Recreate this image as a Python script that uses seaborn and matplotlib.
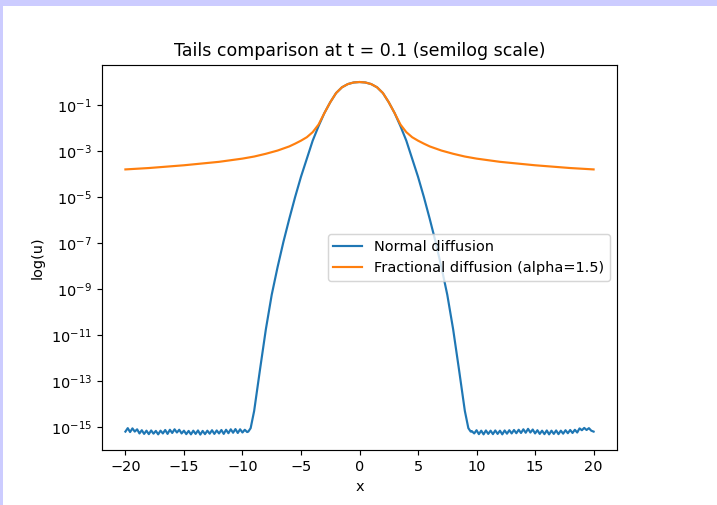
import numpy as np
import pandas as pd
import matplotlib
matplotlib.use("Agg")
import matplotlib.pyplot as plt
from matplotlib.patches import Rectangle
from matplotlib.ticker import NullLocator
import seaborn as sns

# ---- data (log10 of u) ----
# normal diffusion: noise floor on the left, Gaussian core, noise floor on the right
normal_floor_left_x = np.round(np.arange(-20.0, -9.55, 0.2), 2)
normal_floor_left_log = [
    -15.20, -15.05, -15.22, -15.06, -15.20, -15.10, -15.28, -15.14, -15.30, -15.16,
    -15.31, -15.15, -15.29, -15.17, -15.32, -15.16, -15.28, -15.13, -15.30, -15.12,
    -15.26, -15.10, -15.24, -15.12, -15.28, -15.16, -15.31, -15.17, -15.32, -15.16,
    -15.30, -15.15, -15.33, -15.17, -15.31, -15.16, -15.29, -15.14, -15.30, -15.15,
    -15.28, -15.13, -15.30, -15.12, -15.27, -15.10, -15.25, -15.09, -15.26, -15.10,
    -15.24, -15.12, -15.22,
]
normal_core_x = [-9.5, -9.3, -9.0, -8.5, -8.0, -7.5, -7.0, -6.5, -6.0, -5.5, -5.0,
                 -4.5, -4.0, -3.5, -3.0, -2.5, -2.0, -1.5, -1.0, -0.5, 0.0,
                 0.5, 1.0, 1.5, 2.0, 2.5, 3.0, 3.5, 4.0, 4.5, 5.0,
                 5.5, 6.0, 6.5, 7.0, 7.5, 8.0, 8.5, 9.0, 9.3, 9.5]
normal_core_log = [-15.2, -15.05, -14.3, -12.5, -10.75, -9.25, -8.05, -6.95, -5.95, -5.0, -4.12,
                   -3.33, -2.55, -1.92, -1.35, -0.88, -0.48, -0.23, -0.09, -0.02, 0.0,
                   -0.02, -0.09, -0.23, -0.48, -0.88, -1.35, -1.92, -2.55, -3.33, -4.12,
                   -5.0, -5.95, -6.95, -8.05, -9.25, -10.75, -12.5, -14.3, -15.05, -15.2]
normal_floor_right_x = np.round(np.arange(9.6, 20.05, 0.2), 2)
normal_floor_right_log = [
    -15.18, -15.28, -15.14, -15.31, -15.16, -15.32, -15.15, -15.30, -15.16, -15.31,
    -15.15, -15.30, -15.16, -15.32, -15.15, -15.29, -15.14, -15.28, -15.13, -15.27,
    -15.12, -15.26, -15.10, -15.25, -15.08, -15.24, -15.11, -15.28, -15.14, -15.30,
    -15.16, -15.31, -15.15, -15.32, -15.16, -15.30, -15.15, -15.31, -15.16, -15.29,
    -15.14, -15.27, -15.13, -15.26, -15.12, -15.24, -15.06, -15.14, -15.04, -15.13,
    -15.05, -15.16, -15.20,
]

# fractional diffusion (alpha = 1.5)
frac_x = [-20, -19, -18, -17, -16, -15, -14, -13, -12, -11, -10, -9, -8, -7, -6, -5.5, -5,
          -4.5, -4, -3.5, -3, -2.5, -2, -1.5, -1, -0.5, 0,
          0.5, 1, 1.5, 2, 2.5, 3, 3.5, 4, 4.5,
          5, 5.5, 6, 7, 8, 9, 10, 11, 12, 13, 14, 15, 16, 17, 18, 19, 20]
frac_log = [-3.80, -3.77, -3.74, -3.70, -3.66, -3.62, -3.57, -3.52, -3.47, -3.40, -3.33, -3.24,
            -3.12, -2.98, -2.80, -2.68, -2.55,
            -2.40, -2.18, -1.85, -1.35, -0.88, -0.48, -0.23, -0.09, -0.02, 0.0,
            -0.02, -0.09, -0.23, -0.48, -0.88, -1.35, -1.85, -2.18, -2.40,
            -2.55, -2.68, -2.80, -2.98, -3.12, -3.24, -3.33, -3.40, -3.47, -3.52, -3.57,
            -3.62, -3.66, -3.70, -3.74, -3.77, -3.80]

normal_x = np.concatenate([normal_floor_left_x, normal_core_x, normal_floor_right_x])
normal_u = 10.0 ** np.concatenate([normal_floor_left_log, normal_core_log, normal_floor_right_log])
frac_u = 10.0 ** np.array(frac_log)

df_normal = pd.DataFrame({"x": normal_x, "u": normal_u})
df_frac = pd.DataFrame({"x": frac_x, "u": frac_u})

title = "Tails comparison at t = 0.1 (semilog scale)"
labels = ["Normal diffusion", "Fractional diffusion (alpha=1.5)"]
ytick_exps = [-1, -3, -5, -7, -9, -11, -13, -15]

# ---- figure ----
DPI = 104
fig = plt.figure(figsize=(717 / DPI, 505 / DPI), dpi=DPI)
fig.patch.set_facecolor("white")
ax = fig.add_axes([102 / 717, 55 / 505, 515 / 717, 385 / 505])
ax.set_yscale("log")

sns.lineplot(data=df_normal, x="x", y="u", ax=ax, color="tab:blue",
             label=labels[0], sort=False, estimator=None)
sns.lineplot(data=df_frac, x="x", y="u", ax=ax, color="tab:orange",
             label=labels[1], sort=False, estimator=None)

ax.set_xlim(-22, 22)
ax.set_ylim(1e-16, 10 ** 0.74)
ax.set_yticks([10.0 ** e for e in ytick_exps])
ax.yaxis.set_minor_locator(NullLocator())
ax.set_xticks([-20, -15, -10, -5, 0, 5, 10, 15, 20])
ax.set_title(title)
ax.set_xlabel("x")
ax.set_ylabel("log(u)")
ax.legend(loc="center right")

# lavender frame strips of the screenshot
fig.add_artist(Rectangle((0, 1 - 6 / 505), 1, 6 / 505, transform=fig.transFigure,
                         facecolor="#ccccff", edgecolor="none", zorder=10))
fig.add_artist(Rectangle((0, 0), 3 / 717, 1, transform=fig.transFigure,
                         facecolor="#ccccff", edgecolor="none", zorder=10))

fig.savefig("out.png", dpi=DPI)
